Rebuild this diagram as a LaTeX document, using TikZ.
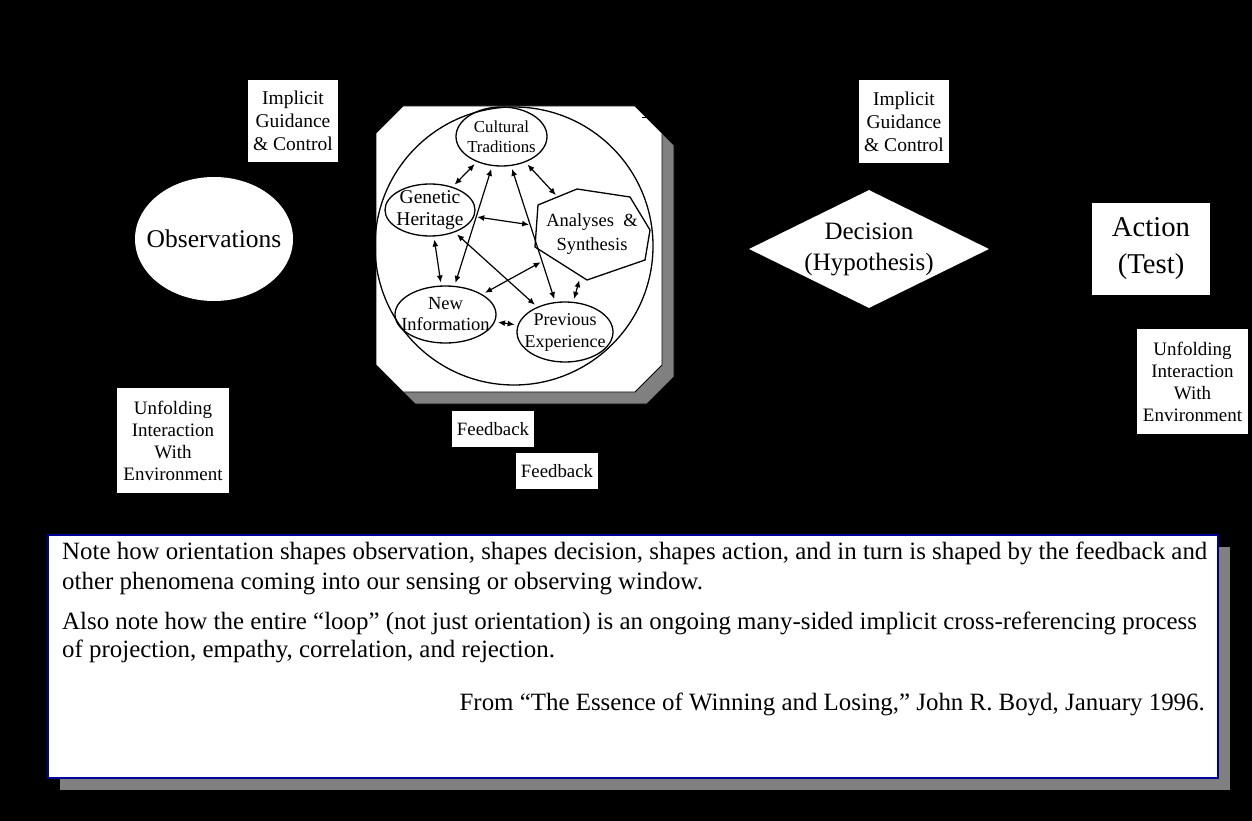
\documentclass[tikz,border=0pt]{standalone}
\usepackage{fontspec}
\setmainfont{Liberation Serif}
\usepackage{tikz}
\usetikzlibrary{calc,arrows.meta,shapes}
\definecolor{navy}{RGB}{0,0,150}
\newcommand{\fs}[2]{\fontsize{#1}{#2}\selectfont}

\begin{document}
\begin{tikzpicture}[x=1pt,y=-1pt,
  wbox/.style={fill=white, inner sep=0pt, align=center},
  blob/.style={ellipse, inner xsep=-30pt, inner ysep=-20pt, align=center},
  bubble/.style={blob, draw=black, line width=1.3pt},
  link/.style={<->, >={Latex[length=7pt,width=6pt]}, line width=1.2pt, shorten <=3pt, shorten >=3pt}]
\pgfmathsetmacro{\cut}{27}
\pgfmathsetmacro{\sh}{12}

\fill[black] (0,0) rectangle (1252,821);
\useasboundingbox (0,0) rectangle (1252,821);

\node[wbox, minimum width=90, minimum height=82, font=\fs{19.5}{23}] (ig1) at (293,121) {Implicit\\Guidance\\\& Control};
\node[wbox, minimum width=90, minimum height=83, font=\fs{19.5}{23}] (ig2) at (904,121.5) {Implicit\\Guidance\\\& Control};
\node[blob, fill=white, minimum width=158, minimum height=124, font=\fs{25.5}{30}] (obs) at (214,239) {Observations};
\node[wbox, minimum width=112, minimum height=105, font=\fs{19}{22}] (unf1) at (173,440.5) {Unfolding\\Interaction\\With\\Environment};
\node[wbox, minimum width=111, minimum height=105, font=\fs{19}{22}] (unf2) at (1192.5,381.5) {Unfolding\\Interaction\\With\\Environment};

% orientation block, shadow first
\foreach \d/\col in {\sh/gray, 0/white}
  \draw[fill=\col, draw=black, line width=.8pt] (376+\cut+\d,106+\d) -- (662-\cut+\d,106+\d) -- (662+\d,106+\cut+\d) -- (662+\d,392-\cut+\d)
    -- (662-\cut+\d,392+\d) -- (376+\cut+\d,392+\d) -- (376+\d,392-\cut+\d) -- (376+\d,106+\cut+\d) -- cycle;
\draw[line width=1pt] (642,118) -- (652,118);
\draw[line width=1.3pt] (514,246) circle[radius=139];

\node[bubble, minimum width=91, minimum height=59, font=\fs{16.8}{20}] (cult) at (501.5,136.5) {Cultural\\Traditions};
\node[bubble, minimum width=90, minimum height=52, font=\fs{19.5}{22}] (gen) at (430,210) {Genetic\\Heritage};
\node[bubble, minimum width=101, minimum height=57, font=\fs{18.5}{21}] (newi) at (445.5,314.5) {New\\Information};
\node[bubble, minimum width=96, minimum height=60, font=\fs{18}{22}] (prev) at (565,332) {Previous\\Experience};
\node[blob, minimum width=122, minimum height=88, font=\fs{18.5}{24}] (ana) at (592,234) {Analyses\ \ \&\\Synthesis};
\draw[line width=1.3pt] ($(ana)+(-54,-29)$) -- ($(ana)+(-15,-45)$) -- ($(ana)+(38,-37)$) -- ($(ana)+(58,-4)$)
  -- ($(ana)+(53,26)$) -- ($(ana)+(-5,46)$) -- ($(ana)+(-57,13)$) -- cycle;

\draw[link] (cult) -- (gen);
\draw[link] (cult) -- (ana);
\draw[link] (gen) -- (ana);
\draw[link] (gen) -- (newi);
\draw[link] (newi) -- (cult);
\draw[link] (cult) -- (prev);
\draw[link] (gen) -- (prev);
\draw[link] (ana) -- (newi);
\draw[link] (ana) -- (prev);
\draw[link] (newi) -- (prev);

\node[wbox, minimum width=82, minimum height=36, font=\fs{18.8}{22}] (fb1) at (493,429) {Feedback};
\node[wbox, minimum width=82, minimum height=36, font=\fs{18.8}{22}] (fb2) at (557,471) {Feedback};

\node[diamond, fill=white, inner sep=0pt, aspect=2.03, minimum width=240, minimum height=118, align=center, font=\fs{25}{31}] (dec) at (869,249) {Decision\\(Hypothesis)};
\node[wbox, minimum width=118, minimum height=92, font=\fs{28.7}{37}] (act) at (1151,249) {Action\\(Test)};

% note
\fill[gray] (48+\sh,535+\sh) rectangle (1218+\sh,778+\sh);
\draw[fill=white, draw=navy, line width=1.5pt] (48,535) rectangle (1218,778);
%\draw[red] (62,535) -- (62,778);
\node[anchor=base west, inner sep=0pt, font=\fs{24.9}{30}] (n1) at (62,559) {Note how orientation shapes observation, shapes decision, shapes action, and in turn is shaped by the feedback and};
\node[anchor=base west, inner sep=0pt, font=\fs{24.9}{30}] (n2) at (62,589) {other phenomena coming into our sensing or observing window.};
\node[anchor=base west, inner sep=0pt, font=\fs{24.9}{30}] (n3) at (62,629) {Also note how the entire “loop” (not just orientation) is an ongoing many-sided implicit cross-referencing process};
\node[anchor=base west, inner sep=0pt, font=\fs{24.9}{30}] (n4) at (62,657) {of projection, empathy, correlation, and rejection.};
\node[anchor=base east, inner sep=0pt, font=\fs{24.9}{30}] (n5) at (1205,710) {From “The Essence of Winning and Losing,” John R. Boyd, January 1996.};
\end{tikzpicture}
\end{document}
